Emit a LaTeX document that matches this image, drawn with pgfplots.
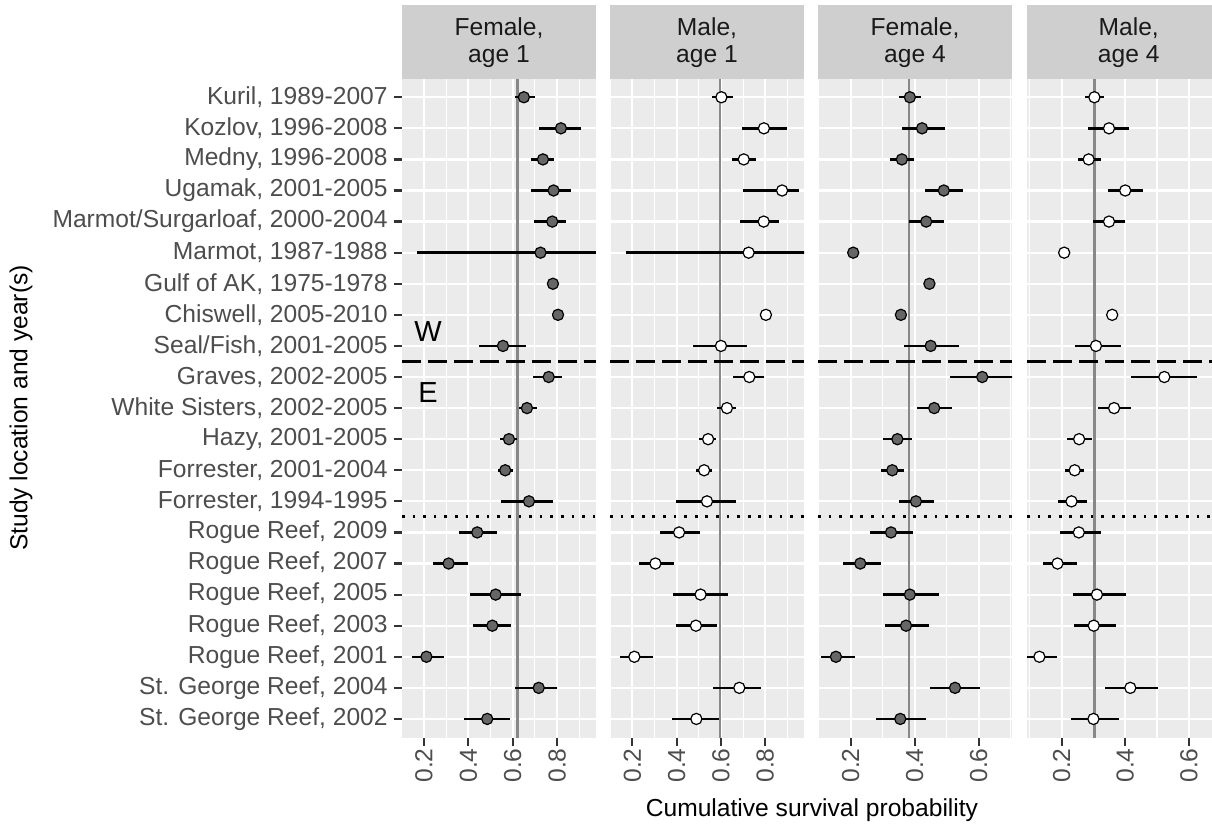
\documentclass[border=0pt]{standalone}
\usepackage{fontspec}
\setmainfont{Liberation Sans}
\usepackage{pgfplots}
\usepackage{pgfplotstable}
\pgfplotsset{compat=1.18}

\definecolor{panelbg}{HTML}{EBEBEB}
\definecolor{stripbg}{HTML}{CFCFCF}
\definecolor{labcol}{HTML}{4D4D4D}
\definecolor{tickcol}{HTML}{333333}
\definecolor{stripcol}{HTML}{1A1A1A}
\definecolor{femfill}{HTML}{666666}
\definecolor{meancol}{HTML}{888888}

\newcommand\tickfont{\fontsize{12.3}{14}\selectfont}

% columns: y (row, 21 = top), est, lo, hi
\pgfplotstableread{
y est lo hi
21 0.650 0.610 0.700
20 0.817 0.718 0.907
19 0.736 0.682 0.786
18 0.784 0.680 0.861
17 0.778 0.695 0.842
16 0.725 0.167 1.000
15 0.781 0.781 0.781
14 0.804 0.804 0.804
13 0.556 0.449 0.658
12 0.762 0.691 0.823
11 0.664 0.628 0.707
10 0.583 0.542 0.617
9  0.566 0.532 0.602
8  0.673 0.545 0.780
7  0.440 0.358 0.529
6  0.311 0.239 0.397
5  0.523 0.406 0.636
4  0.508 0.419 0.592
3  0.211 0.146 0.290
2  0.717 0.611 0.799
1  0.485 0.382 0.586
}\fone

\pgfplotstableread{
y est lo hi
21 0.602 0.558 0.656
20 0.794 0.694 0.898
19 0.703 0.648 0.757
18 0.876 0.698 0.954
17 0.793 0.688 0.864
16 0.725 0.170 1.000
14 0.803 0.803 0.803
13 0.600 0.475 0.716
12 0.728 0.653 0.794
11 0.627 0.581 0.667
10 0.542 0.501 0.578
9  0.524 0.489 0.560
8  0.537 0.399 0.670
7  0.411 0.325 0.507
6  0.304 0.232 0.388
5  0.508 0.385 0.630
4  0.487 0.396 0.581
3  0.209 0.146 0.292
2  0.683 0.564 0.782
1  0.489 0.381 0.593
}\mone

\pgfplotstableread{
y est lo hi
21 0.385 0.351 0.419
20 0.423 0.360 0.496
19 0.360 0.324 0.397
18 0.491 0.431 0.552
17 0.436 0.383 0.492
16 0.208 0.208 0.208
15 0.446 0.446 0.446
14 0.357 0.357 0.357
13 0.450 0.366 0.539
12 0.611 0.511 0.720
11 0.461 0.407 0.516
10 0.346 0.302 0.391
9  0.330 0.296 0.366
8  0.404 0.351 0.460
7  0.326 0.261 0.394
6  0.230 0.175 0.294
5  0.385 0.301 0.476
4  0.373 0.306 0.444
3  0.154 0.108 0.215
2  0.526 0.447 0.603
1  0.355 0.280 0.435
}\ffour

\pgfplotstableread{
y est lo hi
21 0.303 0.275 0.334
20 0.349 0.282 0.413
19 0.285 0.250 0.324
18 0.400 0.346 0.456
17 0.349 0.300 0.398
16 0.208 0.208 0.208
14 0.359 0.359 0.359
13 0.308 0.241 0.386
12 0.523 0.418 0.626
11 0.365 0.314 0.419
10 0.255 0.218 0.294
9  0.241 0.212 0.271
8  0.231 0.189 0.279
7  0.254 0.196 0.324
6  0.187 0.142 0.248
5  0.311 0.236 0.402
4  0.301 0.238 0.372
3  0.130 0.092 0.185
2  0.416 0.335 0.503
1  0.300 0.229 0.381
}\mfour

\pgfplotsset{
  panel/.style={
    scale only axis, width=97pt, height=329.5pt,
    anchor=south west,
    ymin=0.4, ymax=21.6,
    axis background/.style={fill=panelbg},
    axis line style={draw=none},
    grid=both,
    major grid style={white, line width=1.1pt},
    minor grid style={white, line width=0.55pt},
    ytick={1,...,21},
    yticklabels={},
    xtick pos=bottom, ytick pos=left,
    tick align=outside,
    major tick length=4pt,
    minor tick length=0pt,
    tick style={tickcol, line width=1.1pt},
    xticklabel style={rotate=90, anchor=east, text=labcol, font=\tickfont, inner sep=1.2pt},
    clip mode=individual,
  },
  noyticks/.style={every major y tick/.style={draw=none}},
  bars/.style={only marks, mark=none,
    error bars/x dir=both, error bars/x explicit, error bars/error mark=none,
    error bars/error bar style={black, solid, line width=1.25pt, line cap=butt}},
  fpts/.style={only marks, mark=*, mark size=2.8pt,
    mark options={fill=femfill, draw=black, line width=0.6pt}},
  mpts/.style={only marks, mark=*, mark size=2.8pt,
    mark options={fill=white, draw=black, line width=0.6pt}},
}
\tikzset{
  sepdash/.style={black, line width=1.5pt, dash pattern=on 9.5pt off 3.5pt},
  sepdot/.style={black, line width=1.4pt, dash pattern=on 1.35pt off 3.95pt},
  meanline/.style={meancol, line width=1.25pt},
}

\begin{document}
\begin{tikzpicture}
\useasboundingbox (0,0) rectangle (606pt,413pt);

% Female, age 1
\begin{axis}[panel, at={(201pt,44.2pt)},
  xmin=0.101, xmax=0.975,
  xtick={0.2,0.4,0.6,0.8}, xticklabels={0.2,0.4,0.6,0.8},
  minor xtick={0.1,0.3,0.5,0.7,0.9},
  yticklabels={{St. George Reef, 2002},{St. George Reef, 2004},{Rogue Reef, 2001},
    {Rogue Reef, 2003},{Rogue Reef, 2005},{Rogue Reef, 2007},{Rogue Reef, 2009},
    {Forrester, 1994-1995},{Forrester, 2001-2004},{Hazy, 2001-2005},
    {White Sisters, 2002-2005},{Graves, 2002-2005},{Seal/Fish, 2001-2005},
    {Chiswell, 2005-2010},{Gulf of AK, 1975-1978},{Marmot, 1987-1988},
    {Marmot/Surgarloaf, 2000-2004},{Ugamak, 2001-2005},{Medny, 1996-2008},
    {Kozlov, 1996-2008},{Kuril, 1989-2007}},
  yticklabel style={text=labcol, font=\tickfont, inner sep=3pt},
]
\draw[meanline] (axis cs:0.622,0.4) -- (axis cs:0.622,21.6);
\draw[sepdash] (axis cs:0.101,12.5) -- (axis cs:0.975,12.5);
\draw[sepdot] (axis cs:0.101,7.5) -- (axis cs:0.975,7.5);
\addplot[bars] table[x=est, y=y, x error plus expr=\thisrow{hi}-\thisrow{est}, x error minus expr=\thisrow{est}-\thisrow{lo}] {\fone};
\addplot[fpts] table[x=est, y=y] {\fone};
\node[font=\fontsize{14.5}{16}\selectfont] at (axis cs:0.218,13.46) {W};
\node[font=\fontsize{14.5}{16}\selectfont] at (axis cs:0.218,11.49) {E};
\fill[stripbg] (rel axis cs:0,1) rectangle ([yshift=36.9pt]rel axis cs:1,1);
\node[font=\tickfont, text=stripcol, align=center] at ([yshift=17.8pt]rel axis cs:0.5,1) {Female,\\[-0.5pt]age 1};
\end{axis}

% Male, age 1
\begin{axis}[panel, noyticks, at={(305pt,44.2pt)},
  xmin=0.099, xmax=0.975,
  xtick={0.2,0.4,0.6,0.8}, xticklabels={0.2,0.4,0.6,0.8},
  minor xtick={0.1,0.3,0.5,0.7,0.9},
]
\draw[meanline] (axis cs:0.596,0.4) -- (axis cs:0.596,21.6);
\draw[sepdash] (axis cs:0.099,12.5) -- (axis cs:0.975,12.5);
\draw[sepdot] (axis cs:0.099,7.5) -- (axis cs:0.975,7.5);
\addplot[bars] table[x=est, y=y, x error plus expr=\thisrow{hi}-\thisrow{est}, x error minus expr=\thisrow{est}-\thisrow{lo}] {\mone};
\addplot[mpts] table[x=est, y=y] {\mone};
\fill[stripbg] (rel axis cs:0,1) rectangle ([yshift=36.9pt]rel axis cs:1,1);
\node[font=\tickfont, text=stripcol, align=center] at ([yshift=17.8pt]rel axis cs:0.5,1) {Male,\\[-0.5pt]age 1};
\end{axis}

% Female, age 4
\begin{axis}[panel, noyticks, at={(409pt,44.2pt)},
  xmin=0.098, xmax=0.704,
  xtick={0.2,0.4,0.6}, xticklabels={0.2,0.4,0.6},
  minor xtick={0.1,0.3,0.5,0.7},
]
\draw[meanline] (axis cs:0.383,0.4) -- (axis cs:0.383,21.6);
\draw[sepdash] (axis cs:0.098,12.5) -- (axis cs:0.704,12.5);
\draw[sepdot] (axis cs:0.098,7.5) -- (axis cs:0.704,7.5);
\addplot[bars] table[x=est, y=y, x error plus expr=\thisrow{hi}-\thisrow{est}, x error minus expr=\thisrow{est}-\thisrow{lo}] {\ffour};
\addplot[fpts] table[x=est, y=y] {\ffour};
\fill[stripbg] (rel axis cs:0,1) rectangle ([yshift=36.9pt]rel axis cs:1,1);
\node[font=\tickfont, text=stripcol, align=center] at ([yshift=17.8pt]rel axis cs:0.5,1) {Female,\\[-0.5pt]age 4};
\end{axis}

% Male, age 4
\begin{axis}[panel, noyticks, at={(513.5pt,44.2pt)}, width=92.5pt,
  xmin=0.091, xmax=0.673,
  xtick={0.2,0.4,0.6}, xticklabels={0.2,0.4,0.6},
  minor xtick={0.1,0.3,0.5},
]
\draw[meanline] (axis cs:0.303,0.4) -- (axis cs:0.303,21.6);
\draw[sepdash] (axis cs:0.091,12.5) -- (axis cs:0.673,12.5);
\draw[sepdot] (axis cs:0.091,7.5) -- (axis cs:0.673,7.5);
\addplot[bars] table[x=est, y=y, x error plus expr=\thisrow{hi}-\thisrow{est}, x error minus expr=\thisrow{est}-\thisrow{lo}] {\mfour};
\addplot[mpts] table[x=est, y=y] {\mfour};
\fill[stripbg] (rel axis cs:0,1) rectangle ([yshift=36.9pt]rel axis cs:1,1);
\node[font=\tickfont, text=stripcol, align=center] at ([yshift=17.8pt]rel axis cs:0.55,1) {Male,\\[-0.5pt]age 4};
\end{axis}

\node[font=\tickfont, anchor=base] at (406pt,5pt) {Cumulative survival probability};
\node[font=\tickfont, rotate=90] at (10.5pt,209pt) {Study location and year(s)};
\end{tikzpicture}
\end{document}
